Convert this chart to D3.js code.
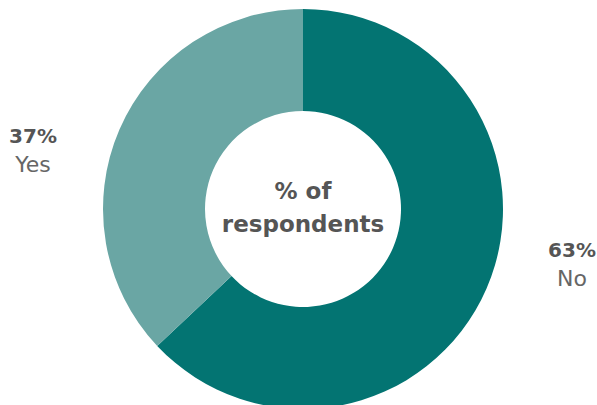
<!DOCTYPE html>
<html>
<head>
<title>Respondents</title>
<style>
body { margin: 0; background: #fff; }
</style>
<script type="text/javascript" src="https://d3js.org/d3.v7.min.js"></script>
</head>
<body>
<svg id="chart" width="597" height="405"></svg>
<script type="text/javascript">
const categories = ["No", "Yes"];
const values = [63, 37];
const colours = ["#037472", "#6aa6a4"];
const centreLines = ["% of", "respondents"];

const svg = d3.select("#chart");
const CX = 303, CY = 209;
const R_OUT = 200, R_IN = 98;

const data = categories.map((c, i) => ({ label: c, value: values[i] }));

const pie = d3.pie().sort(null).value(d => d.value);
const arc = d3.arc().innerRadius(R_IN).outerRadius(R_OUT);
const labelArc = d3.arc().innerRadius(144).outerRadius(144);

const colour = d3.scaleOrdinal().domain(categories).range(colours);

const g = svg.append("g").attr("transform", `translate(${CX},${CY})`);

const slices = pie(data);

g.selectAll("path")
  .data(slices)
  .join("path")
  .attr("d", arc)
  .style("fill", d => colour(d.data.label))
  .style("stroke", "none");

// outside labels
const labels = g.selectAll("g.lbl")
  .data(slices)
  .join("g")
  .attr("class", "lbl")
  .attr("transform", d => {
    const c = labelArc.centroid(d);
    const x = c[0] > 0 ? 269 : -270;
    return `translate(${x},${c[1]})`;
  });

labels.append("text")
  .attr("text-anchor", "middle")
  .attr("y", -9)
  .style("font-family", "DejaVu Sans")
  .style("font-weight", "bold")
  .style("font-size", "20px")
  .style("fill", "#555")
  .text(d => d.data.value + "%");

labels.append("text")
  .attr("text-anchor", "middle")
  .attr("y", 20)
  .style("font-family", "DejaVu Sans")
  .style("font-size", "22px")
  .style("fill", "#666")
  .text(d => d.data.label);

// centre text
g.selectAll("text.centre")
  .data(centreLines)
  .join("text")
  .attr("class", "centre")
  .attr("text-anchor", "middle")
  .attr("y", (d, i) => i === 0 ? -10 : 23)
  .style("font-family", "DejaVu Sans")
  .style("font-weight", "bold")
  .style("font-size", "23px")
  .style("fill", "#555")
  .text(d => d);
</script>
</body>
</html>
